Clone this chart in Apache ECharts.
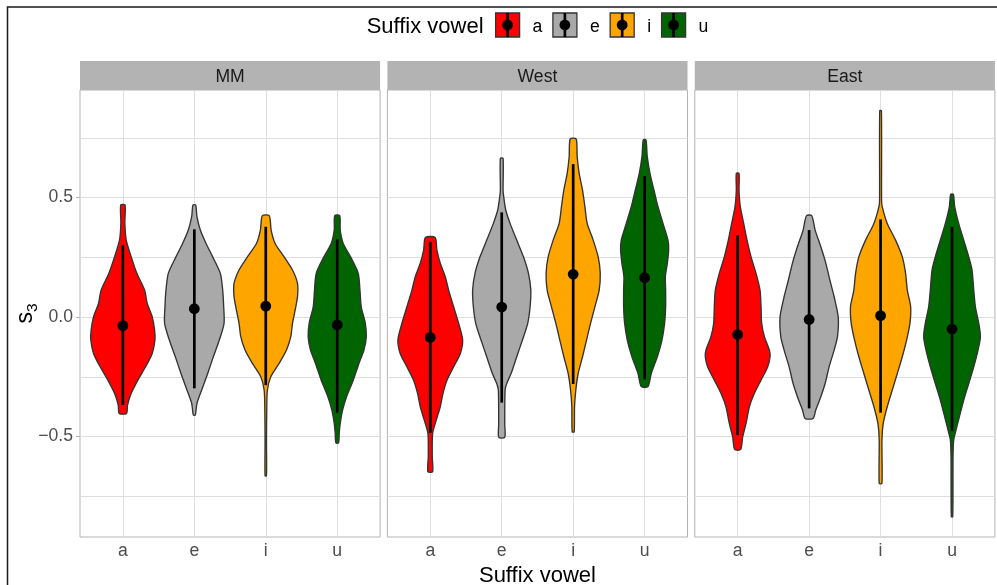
<!DOCTYPE html>
<html><head><meta charset="utf-8">
<script src="https://cdn.jsdelivr.net/npm/echarts@6/dist/echarts.min.js"></script>
<style>html,body{margin:0;padding:0;background:#fff}#c{width:997px;height:585px}</style>
</head><body><div id="c"></div>
<script>
// ---------- data ----------
const categories = ['a', 'e', 'i', 'u'];
const panels = ['MM', 'West', 'East'];
const legendTitle = 'Suffix vowel';
const xTitle = 'Suffix vowel';
const yTitle = '{s|s}{sub|3}';
const yTicks = [-0.5, 0, 0.5];
const yGridValues = [-0.75, -0.5, -0.25, 0, 0.25, 0.5, 0.75];

// violin outlines: [s3 value, half-width (fraction of category spacing)]
const mmA = [[0.469,0.03],[0.392,0.028],[0.322,0.047],[0.252,0.117],[0.183,0.196],[0.113,0.304],[0.057,0.341],[0.001,0.411],[-0.054,0.444],[-0.096,0.449],[-0.152,0.411],[-0.208,0.318],[-0.264,0.21],[-0.319,0.117],[-0.368,0.065],[-0.403,0.051]];
const mmE = [[0.469,0.019],[0.420,0.037],[0.364,0.084],[0.308,0.164],[0.252,0.257],[0.183,0.364],[0.113,0.397],[0.043,0.411],[-0.026,0.416],[-0.096,0.35],[-0.166,0.266],[-0.236,0.187],[-0.305,0.103],[-0.361,0.037],[-0.410,0.014]];
const mmI = [[0.424,0.049],[0.364,0.075],[0.308,0.131],[0.252,0.257],[0.197,0.374],[0.141,0.444],[0.085,0.444],[0.029,0.411],[-0.026,0.374],[-0.082,0.35],[-0.138,0.29],[-0.194,0.187],[-0.250,0.07],[-0.305,0.023],[-0.375,0.014],[-0.515,0.01],[-0.664,0.01]];
const mmU = [[0.424,0.035],[0.364,0.042],[0.308,0.084],[0.252,0.187],[0.183,0.294],[0.113,0.318],[0.043,0.336],[-0.026,0.393],[-0.082,0.407],[-0.138,0.374],[-0.194,0.304],[-0.264,0.224],[-0.333,0.131],[-0.389,0.075],[-0.445,0.042],[-0.487,0.028],[-0.526,0.019]];

const westA = [[0.333,0.068],[0.280,0.093],[0.225,0.14],[0.169,0.21],[0.113,0.257],[0.043,0.327],[-0.026,0.397],[-0.096,0.453],[-0.152,0.421],[-0.208,0.327],[-0.264,0.234],[-0.319,0.178],[-0.375,0.14],[-0.431,0.084],[-0.487,0.033],[-0.584,0.028],[-0.647,0.033]];
const westE = [[0.664,0.019],[0.531,0.019],[0.503,0.028],[0.448,0.056],[0.392,0.117],[0.322,0.21],[0.252,0.304],[0.183,0.374],[0.113,0.407],[0.043,0.397],[-0.026,0.364],[-0.096,0.29],[-0.166,0.21],[-0.236,0.131],[-0.278,0.07],[-0.305,0.047],[-0.445,0.042],[-0.503,0.042]];
const westI = [[0.745,0.042],[0.671,0.056],[0.601,0.084],[0.531,0.131],[0.462,0.164],[0.392,0.196],[0.322,0.28],[0.252,0.35],[0.183,0.379],[0.113,0.364],[0.043,0.304],[-0.026,0.243],[-0.096,0.187],[-0.166,0.131],[-0.236,0.07],[-0.305,0.037],[-0.375,0.019],[-0.480,0.014]];
const westU = [[0.741,0.019],[0.671,0.037],[0.601,0.075],[0.531,0.131],[0.462,0.187],[0.392,0.257],[0.322,0.327],[0.280,0.336],[0.225,0.318],[0.169,0.29],[0.113,0.294],[0.043,0.294],[-0.026,0.28],[-0.096,0.243],[-0.166,0.178],[-0.236,0.093],[-0.291,0.047]];

const eastA = [[0.601,0.019],[0.531,0.019],[0.462,0.037],[0.392,0.084],[0.322,0.131],[0.252,0.187],[0.183,0.257],[0.113,0.313],[0.043,0.327],[-0.026,0.336],[-0.082,0.374],[-0.138,0.444],[-0.166,0.453],[-0.208,0.421],[-0.264,0.327],[-0.319,0.234],[-0.375,0.164],[-0.445,0.117],[-0.501,0.07],[-0.554,0.042]];
const eastE = [[0.424,0.037],[0.364,0.084],[0.294,0.164],[0.225,0.234],[0.155,0.29],[0.085,0.35],[0.001,0.407],[-0.082,0.397],[-0.138,0.35],[-0.208,0.28],[-0.278,0.224],[-0.333,0.164],[-0.389,0.093],[-0.424,0.056]];
const eastI = [[0.863,0.012],[0.490,0.014],[0.462,0.023],[0.392,0.093],[0.322,0.21],[0.252,0.304],[0.183,0.35],[0.113,0.374],[0.043,0.421],[-0.026,0.411],[-0.096,0.364],[-0.166,0.304],[-0.236,0.234],[-0.305,0.164],[-0.375,0.093],[-0.445,0.037],[-0.515,0.019],[-0.696,0.019]];
const eastU = [[0.513,0.019],[0.462,0.037],[0.392,0.093],[0.322,0.164],[0.252,0.234],[0.197,0.28],[0.113,0.304],[0.043,0.327],[-0.026,0.374],[-0.082,0.397],[-0.138,0.364],[-0.208,0.304],[-0.278,0.234],[-0.347,0.164],[-0.417,0.103],[-0.473,0.056],[-0.515,0.023],[-0.584,0.014],[-0.835,0.01]];

// point ranges (centre, lower, upper) per vowel
const mmMid = [-0.036, 0.035, 0.046, -0.033];
const mmLow = [-0.368, -0.298, -0.285, -0.400];
const mmHigh = [0.301, 0.367, 0.378, 0.326];
const westMid = [-0.085, 0.042, 0.179, 0.165];
const westLow = [-0.484, -0.358, -0.280, -0.261];
const westHigh = [0.315, 0.438, 0.640, 0.590];
const eastMid = [-0.073, -0.010, 0.006, -0.050];
const eastLow = [-0.494, -0.382, -0.400, -0.476];
const eastHigh = [0.343, 0.364, 0.409, 0.378];

// ---------- assembly ----------
const profiles = [[mmA, mmE, mmI, mmU], [westA, westE, westI, westU], [eastA, eastE, eastI, eastU]];
const mids = [mmMid, westMid, eastMid];
const lows = [mmLow, westLow, eastLow];
const highs = [mmHigh, westHigh, eastHigh];
const vowelColors = ['#FF0000', '#A9A9A9', '#FFA500', '#006400'];

const FONT = '"Liberation Sans", Arial, Helvetica, sans-serif';
const Y_MIN = -0.92, Y_MAX = 0.95;
const TOP = 90, H = 447;
const PW = 300.1, GAP = 7.3, L0 = 80;
const unitW = PW / 4.2;
const panelLeft = i => L0 + i * (PW + GAP);
const fmt = v => (v < 0 ? '\u2212' : '') + Math.abs(v).toFixed(1);

const grid = [], xAxis = [], yAxis = [], series = [], graphic = [];

panels.forEach((name, p) => {
  grid.push({left: panelLeft(p), top: TOP, width: PW, height: H, show: true,
    borderColor: '#b3b3b3', borderWidth: 1, backgroundColor: 'transparent', outerBoundsMode: 'none'});
});
panels.forEach((name, p) => {
  grid.push({left: panelLeft(p) + 0.6 * unitW, top: TOP, width: 3 * unitW, height: H, outerBoundsMode: 'none'});
});

// frame axes (horizontal grid lines)
panels.forEach((name, p) => {
  xAxis.push({gridIndex: p, type: 'value', min: 0, max: 1, show: false});
  yAxis.push({gridIndex: p, type: 'value', min: Y_MIN, max: Y_MAX,
    axisLine: {show: false},
    axisTick: {show: false, customValues: yGridValues},
    axisLabel: {show: false, customValues: yGridValues},
    splitLine: {show: true, lineStyle: {color: '#dedede', width: 1}}});
});
// labelled y axis on first panel
yAxis.push({gridIndex: 0, type: 'value', min: Y_MIN, max: Y_MAX, position: 'left',
  axisLine: {show: false},
  axisTick: {show: true, length: 4, customValues: yTicks, lineStyle: {color: '#b3b3b3', width: 1}},
  axisLabel: {show: true, customValues: yTicks, formatter: fmt, margin: 7,
    fontSize: 17.6, color: '#4d4d4d', fontFamily: FONT},
  splitLine: {show: false}});

// data axes
panels.forEach((name, p) => {
  const ax = {gridIndex: 3 + p, type: 'category', data: categories, boundaryGap: false,
    axisLine: {show: false},
    axisTick: {show: true, length: 4, lineStyle: {color: '#b3b3b3', width: 1}},
    axisLabel: {fontSize: 17.6, color: '#4d4d4d', margin: 5, fontFamily: FONT},
    splitLine: {show: true, lineStyle: {color: '#dedede', width: 1}}};
  if (p === 1) {
    ax.name = xTitle; ax.nameLocation = 'middle'; ax.nameGap = 25;
    ax.nameTextStyle = {fontSize: 22, color: '#000', fontFamily: FONT};
  }
  xAxis.push(ax);
  yAxis.push({gridIndex: 3 + p, type: 'value', min: Y_MIN, max: Y_MAX, show: false});
});

function makeRenderItem(p) {
  return function (params, api) {
    const ci = api.value(0);
    const c0 = api.coord([ci, 0]);
    const c1 = api.coord([Math.min(ci + 1, 3), 0]);
    const c2 = api.coord([Math.max(ci - 1, 0), 0]);
    const unit = Math.abs(c1[0] - c2[0]) / (ci === 0 || ci === 3 ? 1 : 2);
    const right = [], left = [];
    profiles[p][ci].forEach(function (d) {
      const y = api.coord([ci, d[0]])[1];
      right.push([c0[0] + d[1] * unit, y]);
      left.push([c0[0] - d[1] * unit, y]);
    });
    const pts = right.concat(left.reverse());
    const pm = api.coord([ci, api.value(1)]);
    const pl = api.coord([ci, api.value(2)]);
    const ph = api.coord([ci, api.value(3)]);
    return {type: 'group', children: [
      {type: 'polygon', shape: {points: pts, smooth: 0.25},
        style: {fill: vowelColors[ci], stroke: '#333333', lineWidth: 1.35}},
      {type: 'line', shape: {x1: pm[0], y1: pl[1], x2: pm[0], y2: ph[1]},
        style: {stroke: '#000', lineWidth: 2.7}},
      {type: 'circle', shape: {cx: pm[0], cy: pm[1], r: 5.4}, style: {fill: '#000'}}
    ]};
  };
}

panels.forEach((name, p) => {
  series.push({type: 'custom', xAxisIndex: 3 + p, yAxisIndex: 4 + p, clip: false, silent: true,
    renderItem: makeRenderItem(p),
    data: categories.map((c, i) => [i, mids[p][i], lows[p][i], highs[p][i]])});
});

// outer frame
graphic.push({type: 'rect', silent: true,
  shape: {x: 7.5, y: 7, width: 1200, height: 800},
  style: {fill: 'none', stroke: '#1a1a1a', lineWidth: 1.5}, z: 100});

// y axis title (s with subscript 3)
graphic.push({type: 'text', silent: true, x: 26, y: 313.5, rotation: Math.PI / 2,
  style: {text: yTitle, align: 'center', verticalAlign: 'middle', fill: '#000', font: '23px ' + FONT,
    rich: {
      s: {fontSize: 23, lineHeight: 30, fontFamily: FONT, fill: '#000'},
      sub: {fontSize: 15.5, lineHeight: 15, verticalAlign: 'bottom', fontFamily: FONT, fill: '#000'}}}});

// strips
panels.forEach((name, p) => {
  graphic.push({type: 'rect', silent: true,
    shape: {x: panelLeft(p), y: 61, width: PW, height: 29}, style: {fill: '#b3b3b3'}});
  graphic.push({type: 'text', silent: true,
    style: {x: panelLeft(p) + PW / 2, y: 77, text: name, fill: '#1a1a1a',
      font: '17.6px ' + FONT, textAlign: 'center', textVerticalAlign: 'middle'}});
});

// legend
(function () {
  const cv = document.createElement('canvas').getContext('2d');
  cv.font = '22px ' + FONT;
  const tw = cv.measureText(legendTitle).width;
  cv.font = '17.6px ' + FONT;
  const lw = categories.map(c => cv.measureText(c).width);
  const keyW = 24, g1 = 12, g2 = 13, g3 = 10.5;
  let total = tw + g1;
  lw.forEach((w, i) => { total += keyW + g2 + w + (i < lw.length - 1 ? g3 : 0); });
  let x = 537.5 - total / 2;
  const cy = 25;
  graphic.push({type: 'text', silent: true,
    style: {x: x, y: cy + 2, text: legendTitle, fill: '#000', font: '22px ' + FONT, textVerticalAlign: 'middle'}});
  x += tw + g1;
  categories.forEach((c, i) => {
    graphic.push({type: 'rect', silent: true, shape: {x: x, y: cy - 12, width: keyW, height: keyW},
      style: {fill: vowelColors[i], stroke: '#333333', lineWidth: 1.3}});
    graphic.push({type: 'line', silent: true, shape: {x1: x + keyW / 2, y1: cy - 12, x2: x + keyW / 2, y2: cy + 12},
      style: {stroke: '#000', lineWidth: 2.7}});
    graphic.push({type: 'circle', silent: true, shape: {cx: x + keyW / 2, cy: cy, r: 5.4}, style: {fill: '#000'}});
    graphic.push({type: 'text', silent: true,
      style: {x: x + keyW + g2, y: cy + 2, text: c, fill: '#000', font: '17.6px ' + FONT, textVerticalAlign: 'middle'}});
    x += keyW + g2 + lw[i] + g3;
  });
})();

const chart = echarts.init(document.getElementById('c'), null, {renderer: 'canvas'});
chart.setOption({
  animation: false,
  backgroundColor: '#ffffff',
  textStyle: {fontFamily: FONT},
  grid: grid, xAxis: xAxis, yAxis: yAxis, series: series, graphic: graphic
});
</script></body></html>
